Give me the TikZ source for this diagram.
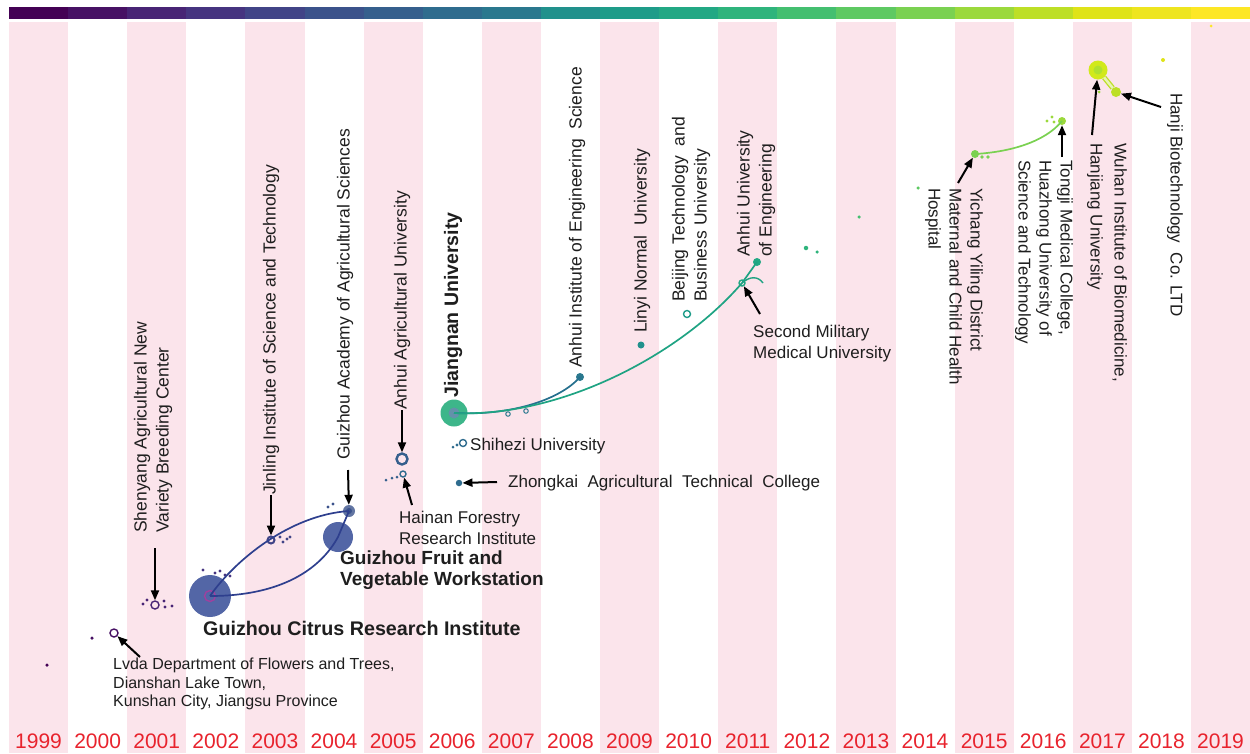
\documentclass[tikz,border=0pt]{standalone}
\usepackage{fontspec}
\setmainfont{Liberation Sans}
\usepackage{xcolor}
\usetikzlibrary{arrows.meta,positioning,calc}

% viridis colours, one per year
\definecolor{yr0}{HTML}{440154}
\definecolor{yr1}{HTML}{471164}
\definecolor{yr2}{HTML}{482475}
\definecolor{yr3}{HTML}{463480}
\definecolor{yr4}{HTML}{414487}
\definecolor{yr5}{HTML}{3B528B}
\definecolor{yr6}{HTML}{355F8D}
\definecolor{yr7}{HTML}{2F6C8E}
\definecolor{yr8}{HTML}{2A788E}
\definecolor{yr9}{HTML}{21918C}
\definecolor{yr10}{HTML}{1E9C89}
\definecolor{yr11}{HTML}{22A884}
\definecolor{yr12}{HTML}{2FB47C}
\definecolor{yr13}{HTML}{44BF70}
\definecolor{yr14}{HTML}{5EC962}
\definecolor{yr15}{HTML}{7AD151}
\definecolor{yr16}{HTML}{9BD93C}
\definecolor{yr17}{HTML}{BDDF26}
\definecolor{yr18}{HTML}{DFE318}
\definecolor{yr19}{HTML}{EEE51F}
\definecolor{yr20}{HTML}{FDE725}
\definecolor{colpink}{RGB}{251,228,235}
\definecolor{yearred}{HTML}{E8232D}
\definecolor{txt}{HTML}{1E1E1E}
\definecolor{citrusblue}{HTML}{5366A6}
\definecolor{linkblue}{HTML}{2E3F8E}
\definecolor{jngreen}{HTML}{3DB68A}
\definecolor{linkteal}{HTML}{26708E}
\definecolor{linkgreen}{HTML}{1FA383}

\begin{document}
\begin{tikzpicture}[x=1pt,y=-1pt,
    dotpt/.style={circle,inner sep=0pt,minimum size=#1},
    dotpt/.default=4pt,
    ringpt/.style={circle,draw,line width=1.4pt,inner sep=0pt,minimum size=#1},
    ringpt/.default=8pt,
    arr/.style={-{Triangle[length=10pt,width=8pt]},line width=2pt,black},
    link/.style={line width=1.7pt},
    lbl/.style={inner sep=0pt,text=txt,align=left,font=\fontsize{17}{21}\selectfont},
    boldlbl/.style={lbl,font=\fontsize{19}{21}\selectfont\bfseries},
    rotup/.style={lbl,rotate=90,anchor=west,font=\fontsize{17.5}{22}\selectfont},
    rotdown/.style={lbl,rotate=-90,anchor=west},
    yearlbl/.style={inner sep=0pt,text=yearred,font=\fontsize{21}{24}\selectfont}]
    \useasboundingbox (0,0) rectangle (1250,753);

    % Year columns and colour bar
    \foreach \k in {0,2,...,20}
        \fill[colpink] ({9+59.1*\k},22) rectangle ++(59.1,731);
    \foreach \k in {0,...,20}
        \fill[yr\k] ({9+59.1*\k},7) rectangle ++(59.2,12);
    \foreach \k in {0,...,20}{
        \pgfmathtruncatemacro\yr{1999+\k}
        \node[yearlbl] (y\yr) at ({38.55+59.1*\k},741) {\yr};
    }

    % 1999 - 2000
    \node[dotpt=3.5pt,fill=yr0] (n1999) at (47,665) {};
    \node[dotpt=3.5pt,fill=yr1] (n2000) at (92,638) {};
    \node[ringpt,draw=yr1] (lvda) at (114,633) {};
    \node[lbl,anchor=west,font=\fontsize{16}{18.5}\selectfont] (lvdaT) at (113,684)
        {Lvda Department of Flowers and Trees,\\Dianshan Lake Town,\\Kunshan City, Jiangsu Province};
    \coordinate (lvdaA) at (140,657);
    \draw[arr] (lvdaA) -- (lvda);

    % 2001 Shenyang
    \node[ringpt,draw=yr2] (shenyang) at (155,605) {};
    \foreach \p in {(143,604),(147,600),(164,601),(165,607),(172,606)}
        \fill[yr2] \p circle (1.7);
    \node[rotup] (shenT) at (153,533) {Shenyang Agricultural New\\Variety Breeding Center};
    \coordinate (shenA) at (155,548);
    \draw[arr] (shenA) -- (shenyang);

    % 2002 - 2004 Guizhou
    \node[dotpt=42pt,fill=citrusblue] (citrus) at (210,596) {};
    \node[ringpt=11pt,draw=violet!75] at (citrus) {};
    \foreach \p in {(203,570),(215,573),(220,571),(225,575),(230,576)}
        \fill[yr3] \p circle (1.7);
    \node[dotpt=30pt,fill=citrusblue] (fruit) at (338,537) {};
    \node[ringpt=7pt,draw=yr4,line width=2pt] (jinling) at (271,540) {};
    \foreach \p in {(280,537),(283,542),(287,539),(290,537)}
        \fill[yr4] \p circle (1.7);
    \node[dotpt=12pt,fill=yr5!80!white] (academy) at (349,511) {};
    \node[dotpt=6pt,fill=yr5] at (academy) {};
    \foreach \p in {(328,507),(333,504)}
        \fill[yr5] \p circle (1.7);
    \draw[link,linkblue] (citrus.center) .. controls (235,560) and (290,515) .. (academy.center);
    \draw[link,linkblue] (citrus.center) .. controls (280,596) and (320,570) .. (fruit.center) -- (academy.center);
    \node[boldlbl,anchor=west,font=\fontsize{19.7}{21}\selectfont\bfseries] (citrusT) at (203,628) {Guizhou Citrus Research Institute};
    \node[boldlbl,anchor=west] (fruitT) at (340,570) {Guizhou Fruit and\\Vegetable Workstation};
    \node[rotup] (jinT) at (271,495) {Jinling Institute of Science and Technology};
    \draw[arr] (jinT.west) -- (jinling);
    \node[rotup] (acadT) at (345,460) {Guizhou Academy of Agricultural Sciences};
    \coordinate (acadA) at (348,470);
    \draw[arr] (acadA) -- (academy);

    % 2005 Anhui and Hainan
    \node[ringpt=11pt,draw=yr6,line width=2.4pt] (ahau) at (402,459) {};
    \node[rotup] (ahauT) at (402,410) {Anhui Agricultural University};
    \draw[arr] (ahauT.west) -- (ahau);
    \node[ringpt=6pt,draw=yr7] (hainan) at (403,474) {};
    \foreach \p in {(386,480),(392,478),(397,477)}
        \fill[yr6] \p circle (1.5);
    \node[lbl,anchor=west] (hainanT) at (399,528) {Hainan Forestry\\Research Institute};
    \coordinate (hainanA) at (412,505);
    \draw[arr] (hainanA) -- (hainan);

    % 2006 Jiangnan
    \node[dotpt=27pt,fill=jngreen] (jiangnan) at (454,413) {};
    \node[dotpt=11pt,fill=yr7!75!white] at (jiangnan) {};
    \node[rotup,font=\fontsize{19.5}{22}\selectfont\bfseries] (jnT) at (453,398) {Jiangnan University};
    \node[ringpt=7pt,draw=yr7] (shihezi) at (463,443) {};
    \fill[yr7] (457,445) circle (1.7) (453,447) circle (1.5);
    \node[lbl,anchor=west] (shzT) at (470,446) {Shihezi University};
    \node[dotpt=6.5pt,fill=yr7] (zhongkai) at (459,483) {};
    \node[lbl,anchor=west] (zkT) at (508,483) {Zhongkai\ \ Agricultural\ \ Technical\ \ College};
    \coordinate (zkA) at (497,482);
    \draw[arr] (zkA) -- (zhongkai);

    % 2008 - 2011
    \node[dotpt=8pt,fill=yr8] (aies) at (580,377) {};
    \node[dotpt=7pt,fill=yr9] (linyi) at (641,345) {};
    \node[ringpt=7pt,draw=yr10] (btbu) at (687,314) {};
    \node[dotpt=8pt,fill=yr11] (aue) at (757,262) {};
    \node[ringpt=6pt,draw=yr11] (smmu) at (742,283) {};
    \coordinate (smmuEnd) at (763,283);
    \draw[link,linkteal] (jiangnan.center) .. controls (510,416) and (560,400) .. (aies.center);
    \draw[link,linkgreen] (jiangnan.center) .. controls (560,418) and (680,355) .. (smmu.center) -- (aue.center);
    \draw[linkgreen,line width=1.4pt] (smmu.center) .. controls (750,276) and (758,276) .. (smmuEnd);
    \node[ringpt=4.5pt,draw=yr8,line width=1pt] (jn1) at (508,414) {};
    \node[ringpt=4.5pt,draw=yr8,line width=1pt] (jn2) at (526,411) {};
    \node[rotup] (aiesT) at (577,368) {Anhui Institute of Engineering\ \ Science};
    \node[rotup] (linyiT) at (642,333) {Linyi Normal\ \ University};
    \node[rotup] (btbuT) at (691,302) {Beijing Technology\ \ and\\Business University};
    \node[rotup] (aueT) at (756,257) {Anhui University\\of Engineering};
    \node[lbl,anchor=west] (smmuT) at (753,344) {Second Military\\Medical University};
    \coordinate (smmuA) at (760,314);
    \draw[arr] (smmuA) -- (smmu);

    % 2012 - 2014
    \node[dotpt=4.5pt,fill=yr12] (n2012a) at (806,248) {};
    \node[dotpt=3.5pt,fill=yr12] (n2012b) at (817,252) {};
    \node[dotpt=3.5pt,fill=yr13] (n2013) at (859,217) {};
    \node[dotpt=3.5pt,fill=yr14] (n2014) at (918,188) {};

    % 2015 - 2016 Yichang and Tongji
    \node[dotpt=8pt,fill=yr15] (yichang) at (975,154) {};
    \fill[yr15] (982,157) circle (1.8) (988,157) circle (1.8);
    \node[dotpt=8pt,fill=yr16] (tongji) at (1062,121) {};
    \fill[yr16] (1047,121) circle (1.7) (1052,117) circle (1.7) (1054,122) circle (1.7);
    \draw[link,yr15] (yichang.center) .. controls (1010,152) and (1045,142) .. (tongji.center);
    \node[rotdown] (ycT) at (954,188) {Yichang Yiling District\\Maternal and Child Health\\Hospital};
    \coordinate (ycA) at (958,183);
    \draw[arr] (ycA) -- (yichang);
    \node[rotdown] (tjT) at (1044,160) {Tongji Medical College,\\Huazhong University of\\Science and Technology};
    \coordinate (tjA) at (1062,157);
    \draw[arr] (tjA) -- (tongji);

    % 2017 - 2019 Wuhan and Hanji
    \node[dotpt=19pt,fill=yr17!70!yellow] (wuhan) at (1098,70) {};
    \node[dotpt=9pt,fill=yr16!80!yellow] at (wuhan) {};
    \node[dotpt=10pt,fill=yr17] (hanji) at (1116,92) {};
    \draw[yr17,line width=1.3pt,double=yr17!35!white,double distance=2.5pt] (wuhan) -- (hanji);
    \node[dotpt=3pt,fill=yr16] (n2017) at (1099,92) {};
    \node[dotpt=4pt,fill=yr18] (n2018) at (1163,60) {};
    \node[dotpt=3pt,fill=yr20] (n2019) at (1211,26) {};
    \node[rotdown] (whT) at (1107,143) {Wuhan Institute of Biomedicine,\\[3pt]Hanjiang University};
    \coordinate (whA) at (1092,135);
    \draw[arr] (whA) -- (wuhan);
    \node[rotdown] (hjT) at (1175,93) {Hanji Biotechnology\ \ Co. LTD};
    \coordinate (hjA) at (1161,107);
    \draw[arr] (hjA) -- (hanji);
\end{tikzpicture}
\end{document}
